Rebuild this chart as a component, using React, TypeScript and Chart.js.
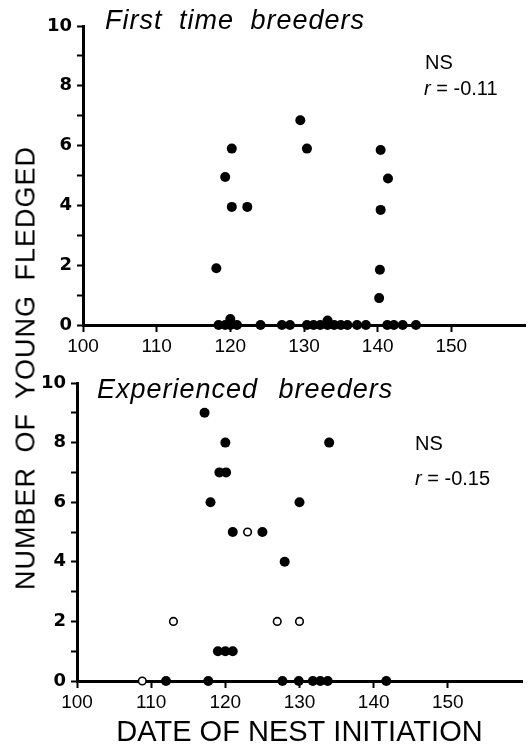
import React, { useEffect, useRef } from "react";
import { Chart, registerables } from "chart.js";

Chart.register(...registerables);

// ---- data ----
const xTickValues = [100, 110, 120, 130, 140, 150];
const yTickValues = [0, 1, 2, 3, 4, 5, 6, 7, 8, 9, 10];

// First time breeders (all filled)
const firstX = [
  129.5, 130.4, 120.2, 140.4, 119.3, 141.4, 120.2, 122.3, 140.4, 118.1, 140.3, 140.2,
  118.4, 119.3, 120.0, 120.0, 120.9, 124.1, 127.0, 128.1, 130.4, 131.3, 132.2, 133.2,
  133.2, 134.1, 135.0, 135.9, 137.2, 138.4, 141.3, 142.2, 143.4, 145.2,
];
const firstY = [
  6.85, 5.9, 5.9, 5.85, 4.95, 4.9, 3.95, 3.95, 3.85, 1.9, 1.85, 0.9,
  0, 0, 0.2, 0, 0, 0, 0, 0, 0, 0, 0, 0.15,
  0, 0, 0, 0, 0, 0, 0, 0, 0, 0,
];

// Experienced breeders, filled symbols
const expFilledX = [
  117.2, 120.0, 134.0, 119.2, 120.1, 118.0, 130.0, 121.0, 125.0, 128.0,
  119.0, 120.0, 121.0, 112.0, 117.7, 127.7, 129.9, 131.8, 132.8, 133.8, 141.7,
];
const expFilledY = [
  9, 8, 8, 7, 7, 6, 6, 5, 5, 4,
  1, 1, 1, 0, 0, 0, 0, 0, 0, 0, 0,
];

// Experienced breeders, open symbols
const expOpenX = [123.0, 113.0, 127.0, 130.0, 108.8];
const expOpenY = [5, 2, 2, 2, 0];

const FONT = "'Liberation Sans', Arial, sans-serif";

function pts(xs: number[], ys: number[]) {
  return xs.map((x, i) => ({ x, y: ys[i] }));
}

type PanelCfg = {
  yWidth: number;
  xHeight: number;
  padding: { top: number; right: number; left: number; bottom: number };
  xTitle?: string;
  datasets: any[];
};

function buildConfig(cfg: PanelCfg): any {
  return {
    type: "scatter",
    data: { datasets: cfg.datasets },
    options: {
      responsive: false,
      animation: false,
      devicePixelRatio: 1,
      events: [],
      layout: { padding: cfg.padding },
      plugins: { legend: { display: false }, tooltip: { enabled: false } },
      scales: {
        x: {
          type: "linear",
          min: 100,
          max: 160,
          afterBuildTicks: (s: any) => {
            s.ticks = xTickValues.map((v) => ({ value: v }));
          },
          afterFit: (s: any) => {
            s.height = cfg.xHeight;
          },
          grid: {
            drawOnChartArea: false,
            drawTicks: true,
            tickLength: 7,
            tickWidth: 2,
            tickColor: "#000",
          },
          border: { display: true, color: "#000", width: 3 },
          ticks: {
            color: "#000",
            font: { family: FONT, size: 19 },
            padding: 3,
            maxRotation: 0,
            autoSkip: false,
            callback: (v: any) => String(v),
          },
          title: cfg.xTitle
            ? {
                display: true,
                text: cfg.xTitle,
                color: "#000",
                font: { family: FONT, size: 29, lineHeight: 1 },
                padding: { top: 0, bottom: 0 },
              }
            : { display: false },
        },
        y: {
          type: "linear",
          min: 0,
          max: 10,
          afterBuildTicks: (s: any) => {
            s.ticks = yTickValues.map((v) => ({ value: v }));
          },
          afterFit: (s: any) => {
            s.width = cfg.yWidth;
          },
          grid: {
            drawOnChartArea: false,
            drawTicks: true,
            tickLength: 6,
            tickWidth: 2,
            tickColor: "#000",
          },
          border: { display: true, color: "#000", width: 3 },
          ticks: {
            color: "#000",
            font: { family: "'DejaVu Sans', sans-serif", size: 18, weight: "bold" },
            padding: 5,
            autoSkip: false,
            callback: (v: any) => (Number(v) % 2 === 0 ? String(v) : ""),
          },
        },
      },
    },
  };
}

function Panel(props: { cfg: PanelCfg; width: number; height: number; top: number }) {
  const ref = useRef<HTMLCanvasElement | null>(null);
  useEffect(() => {
    if (!ref.current) return;
    const chart = new Chart(ref.current, buildConfig(props.cfg));
    return () => chart.destroy();
  }, []);
  return (
    <canvas
      ref={ref}
      width={props.width}
      height={props.height}
      style={{ position: "absolute", left: 0, top: props.top, width: props.width, height: props.height }}
    />
  );
}

const filledStyle = {
  pointRadius: 5,
  pointBackgroundColor: "#000",
  pointBorderColor: "#000",
  pointBorderWidth: 0,
  showLine: false,
  clip: false,
};

const openStyle = {
  pointRadius: 3.8,
  pointBackgroundColor: "#fff",
  pointBorderColor: "#000",
  pointBorderWidth: 1.6,
  showLine: false,
  clip: false,
};

const topCfg: PanelCfg = {
  yWidth: 83,
  xHeight: 35,
  padding: { top: 26, right: 3, left: 0, bottom: 0 },
  datasets: [{ label: "First time breeders", data: pts(firstX, firstY), ...filledStyle }],
};

const bottomCfg: PanelCfg = {
  yWidth: 77,
  xHeight: 66,
  padding: { top: 23, right: 8, left: 0, bottom: 0 },
  xTitle: "DATE OF NEST INITIATION",
  datasets: [
    { label: "Experienced (filled)", data: pts(expFilledX, expFilledY), ...filledStyle },
    { label: "Experienced (open)", data: pts(expOpenX, expOpenY), ...openStyle },
  ],
};

const txt: React.CSSProperties = {
  position: "absolute",
  whiteSpace: "nowrap",
  lineHeight: 1,
  color: "#000",
  fontFamily: FONT,
};

export default function App() {
  return (
    <div
      style={{
        position: "absolute",
        left: 0,
        top: 0,
        width: 530,
        height: 747,
        background: "#fff",
        overflow: "hidden",
      }}
    >
      <Panel cfg={topCfg} width={530} height={360} top={0} />
      <Panel cfg={bottomCfg} width={530} height={387} top={360} />

      <div
        style={{
          ...txt,
          left: 26,
          top: 368,
          fontSize: 27,
          letterSpacing: 1,
          wordSpacing: 6,
          transform: "translate(-50%, -50%) rotate(-90deg)",
        }}
      >
        NUMBER OF YOUNG FLEDGED
      </div>

      <div style={{ ...txt, left: 105, top: 7, fontSize: 27, fontStyle: "italic", letterSpacing: 1, wordSpacing: 8 }}>
        First time breeders
      </div>
      <div style={{ ...txt, left: 425, top: 52, fontSize: 20 }}>NS</div>
      <div style={{ ...txt, left: 424, top: 78, fontSize: 20 }}>
        <i>r</i> = -0.11
      </div>

      <div style={{ ...txt, left: 97, top: 376, fontSize: 27, fontStyle: "italic", letterSpacing: 1, wordSpacing: 12 }}>
        Experienced breeders
      </div>
      <div style={{ ...txt, left: 415, top: 433, fontSize: 20 }}>NS</div>
      <div style={{ ...txt, left: 415, top: 468, fontSize: 20 }}>
        <i>r</i> = -0.15
      </div>
    </div>
  );
}
